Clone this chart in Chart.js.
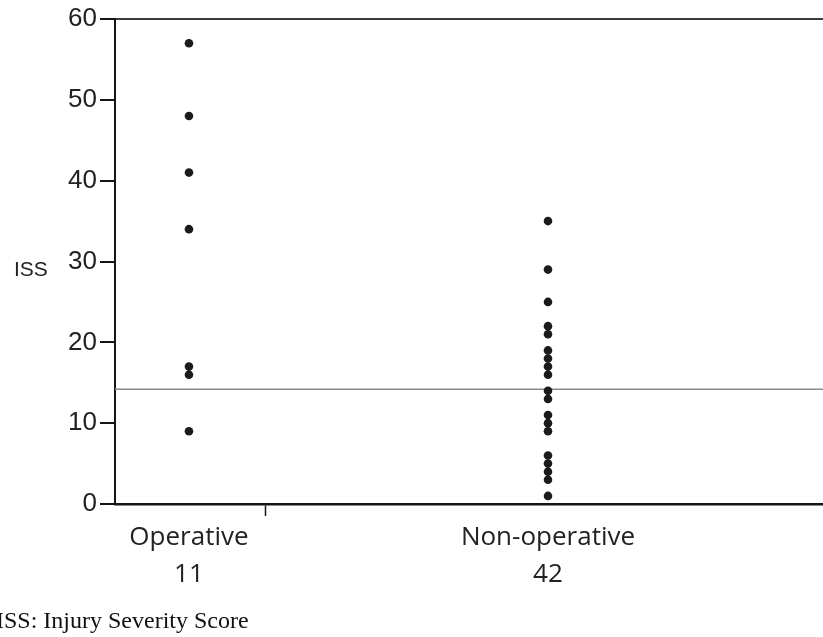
<!DOCTYPE html>
<html>
<head>
<meta charset="utf-8">
<script src="https://cdn.jsdelivr.net/npm/chart.js@4.4.1/dist/chart.umd.min.js"></script>
<style>
  html, body { margin: 0; padding: 0; background: #ffffff; }
  #wrap { position: relative; width: 823px; height: 637px; overflow: hidden; background: #fff; }
  #c { position: absolute; left: 0; top: 0; }
  #ytitle { position: absolute; left: 14px; top: 256px; font: 21px "Liberation Sans", Arial, sans-serif; color: #222; line-height: 26px; }
  #foot { position: absolute; left: -4px; top: 607px; font: 24px "Liberation Serif", "Times New Roman", serif; color: #111; line-height: 26px; white-space: nowrap; }
</style>
</head>
<body>
<div id="wrap">
  <canvas id="c" width="823" height="637"></canvas>
  <div id="ytitle">ISS</div>
  <div id="foot">ISS: Injury Severity Score</div>
</div>
<script>
// ---- data ----
const categories = ["Operative", "Non-operative"];
const patientCounts = [11, 42];
const operativeISS = [57, 48, 41, 34, 17, 16, 9];
const nonOperativeISS = [35, 29, 25, 22, 21, 19, 18, 17, 16, 14, 13, 11, 10, 9, 6, 5, 4, 3, 1];
const referenceISS = 14.2;
const yTicks = [0, 10, 20, 30, 40, 50, 60];

// ---- layout / style settings ----
const X_MIN = -0.206, X_MAX = 1.766, SEPARATOR = 0.212;
const groups = [operativeISS, nonOperativeISS];

const datasets = groups.map((vals, i) => ({
  type: 'scatter',
  label: categories[i],
  data: vals.map(v => ({ x: i, y: v })),
  backgroundColor: '#1b1b1b',
  borderColor: '#1b1b1b',
  pointRadius: 4.3,
  pointHoverRadius: 4.3,
  borderWidth: 0,
  order: 0
}));
datasets.push({
  type: 'line',
  label: 'reference',
  data: [{ x: X_MIN, y: referenceISS }, { x: X_MAX, y: referenceISS }],
  borderColor: '#8c8c8c',
  borderWidth: 1.6,
  pointRadius: 0,
  fill: false,
  order: 1
});

new Chart(document.getElementById('c'), {
  data: { datasets },
  options: {
    responsive: false,
    animation: false,
    devicePixelRatio: 1,
    layout: { autoPadding: false, padding: { top: 19, right: 0, bottom: 0, left: 0 } },
    plugins: { legend: { display: false }, tooltip: { enabled: false } },
    scales: {
      x: {
        type: 'linear',
        min: X_MIN,
        max: X_MAX,
        afterFit: (s) => { s.height = 133; s.paddingLeft = 0; s.paddingRight = 0; },
        afterBuildTicks: (s) => {
          s.ticks = [{ value: 0 }, { value: SEPARATOR }, { value: 1 }];
        },
        border: { display: true, color: '#151515', width: 2.5 },
        grid: {
          drawOnChartArea: false,
          drawTicks: true,
          tickLength: 12,
          tickWidth: 1.5,
          tickColor: (ctx) => (ctx.tick && Math.abs(ctx.tick.value - SEPARATOR) < 1e-6) ? '#151515' : 'rgba(0,0,0,0)',
          color: 'rgba(0,0,0,0)'
        },
        ticks: {
          autoSkip: false,
          maxRotation: 0,
          padding: 3,
          color: '#222',
          font: { family: '"Open Sans", sans-serif', size: 26, lineHeight: 1.42 },
          callback: (v) => {
            const i = categories.findIndex((_, k) => Math.abs(k - v) < 1e-6);
            return i >= 0 ? [categories[i], String(patientCounts[i])] : '';
          }
        }
      },
      y: {
        min: 0,
        max: 60,
        afterFit: (s) => { s.width = 115; },
        afterBuildTicks: (s) => { s.ticks = yTicks.map(v => ({ value: v })); },
        border: { display: true, color: '#151515', width: 2 },
        grid: {
          drawOnChartArea: true,
          drawTicks: true,
          tickLength: 15,
          tickWidth: 2,
          tickColor: '#151515',
          color: (ctx) => (ctx.tick && ctx.tick.value === 60) ? '#3c3c3c' : 'rgba(0,0,0,0)',
          lineWidth: 2
        },
        ticks: {
          padding: 3,
          color: '#222',
          font: { family: '"Liberation Sans", Arial, sans-serif', size: 26 }
        }
      }
    }
  }
});
</script>
</body>
</html>
